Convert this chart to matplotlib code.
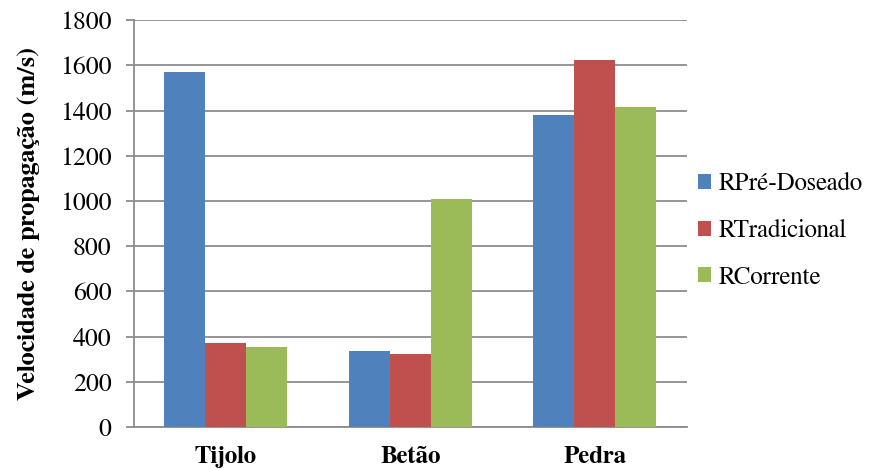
import matplotlib
matplotlib.use("Agg")
import matplotlib.pyplot as plt
import numpy as np

categories = ["Tijolo", "Betão", "Pedra"]
series_names = ["RPré-Doseado", "RTradicional", "RCorrente"]
pre_doseado = [1570, 335, 1381]
tradicional = [370, 325, 1622]
corrente = [354, 1007, 1415]
y_ticks = [0, 200, 400, 600, 800, 1000, 1200, 1400, 1600, 1800]

colors = ["#4F81BD", "#C0504D", "#9BBB59"]

FONT = ["FreeSerif", "Liberation Serif", "DejaVu Serif"]
plt.rcParams["font.family"] = FONT

fig = plt.figure(figsize=(8.71, 4.70), dpi=100)
ax = fig.add_axes([0.1535, 0.0915, 0.635, 0.8655])

x = np.arange(len(categories))
width = 0.222
for i, (vals, name, c) in enumerate(zip([pre_doseado, tradicional, corrente], series_names, colors)):
    ax.bar(x + (i - 1) * width, vals, width, color=c, label=name, zorder=3,
           edgecolor="none")

ax.set_xlim(-0.5, 2.5)
ax.set_ylim(0, 1800)
ax.set_yticks(y_ticks)
ax.set_yticklabels([str(t) for t in y_ticks], fontsize=18.5)
ax.set_xticks(x)
ax.set_xticklabels(categories, fontsize=18, fontweight="bold")
ax.tick_params(axis="x", length=0, pad=14)
ax.tick_params(axis="y", length=6, width=1.3, color="#8C8C8C", pad=10)

ax.grid(axis="y", color="#8C8C8C", linewidth=1.3, zorder=0)
for s in ["top", "right"]:
    ax.spines[s].set_visible(False)
for s in ["left", "bottom"]:
    ax.spines[s].set_color("#8C8C8C")
    ax.spines[s].set_linewidth(1.3)

ax.set_ylabel("Velocidade de propagação (m/s)", fontsize=19, fontweight="bold", labelpad=14)

leg = fig.legend(loc="center left", bbox_to_anchor=(0.775, 0.5085), frameon=False,
                 fontsize=18, handlelength=0.55, handleheight=0.55, handletextpad=0.3,
                 labelspacing=0.91)

fig.savefig("out.png", dpi=100)
